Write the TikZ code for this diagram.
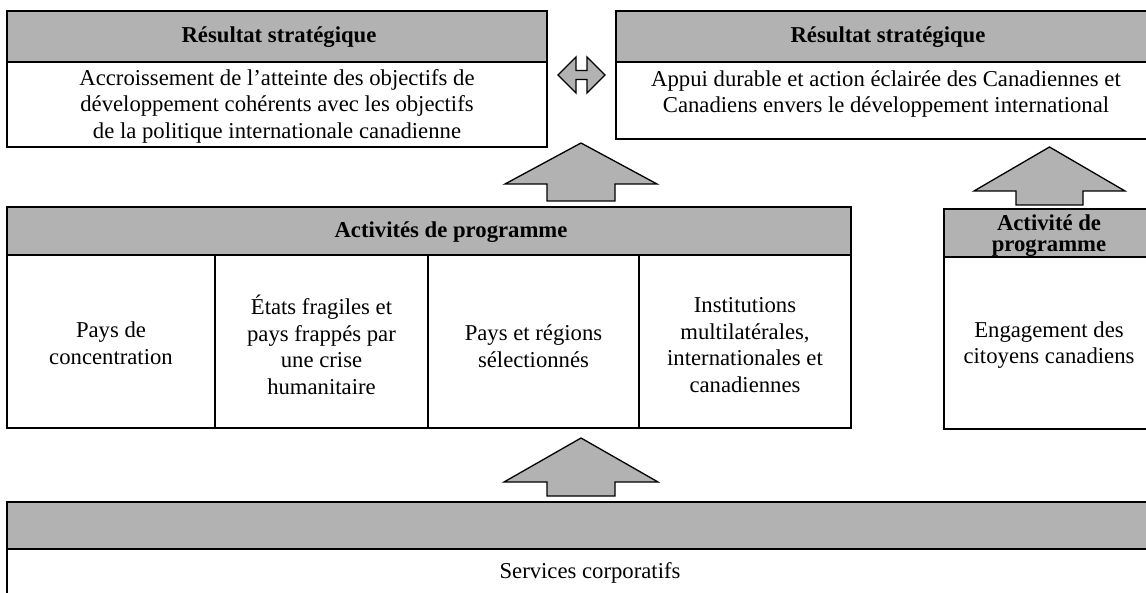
\documentclass[tikz,border=0pt]{standalone}
\usepackage{fontspec}
\setmainfont{Liberation Serif}
\definecolor{hdrgray}{RGB}{178,178,178}
\tikzset{
  box/.style={draw=black, line width=1.6pt, fill=white},
  hdr/.style={draw=black, line width=1.6pt, fill=hdrgray},
  divider/.style={draw=black, line width=1.6pt},
  blockarrow/.style={draw=black, line width=1.3pt, fill=hdrgray, line join=miter},
  txt/.style={font=\fontsize{22.7}{26.5}\selectfont, align=center, inner sep=0pt},
  btxt/.style={font=\fontsize{22.7}{26.5}\selectfont\bfseries, align=center, inner sep=0pt},
  btight/.style={font=\fontsize{22.7}{21}\selectfont\bfseries, align=center, inner sep=0pt},
}
\begin{document}
\begin{tikzpicture}[x=1pt,y=-1pt]
\path[use as bounding box, clip] (0,0) rectangle (1146,593);
\fill[white] (0,0) rectangle (1146,593);

% top-left strategic result
\draw[box] (7,11) rectangle (547,147);
\draw[hdr] (7,11) rectangle (547,62);
\node[btxt] (tlh) at (279,37) {Résultat stratégique};
\node[txt] (tlb) at (277,106) {Accroissement de l’atteinte des objectifs de\\développement cohérents avec les objectifs\\de la politique internationale canadienne};

% top-right strategic result
\draw[box] (616,11) rectangle (1156,139);
\draw[hdr] (616,11) rectangle (1156,62);
\node[btxt] (trh) at (888,37) {Résultat stratégique};
\node[txt] (trb) at (886,94) {Appui durable et action éclairée des Canadiennes et\\Canadiens envers le développement international};

% double arrow
\draw[blockarrow] (558,75) -- (576,57) -- (576,70.5) -- (587,70.5) -- (587,57) -- (605,75)
  -- (587,93) -- (587,79.5) -- (576,79.5) -- (576,93) -- cycle;

% up arrows
\draw[blockarrow] (581,143) -- (657,184) -- (615,184) -- (615,201) -- (547,201) -- (547,184) -- (505,184) -- cycle;
\draw[blockarrow] (1049.5,147) -- (1125,191) -- (1083,191) -- (1083,205) -- (1016,205) -- (1016,191) -- (974,191) -- cycle;
\draw[blockarrow] (581,438) -- (658,482) -- (615,482) -- (615,496) -- (547,496) -- (547,482) -- (504,482) -- cycle;

% program activities
\draw[box] (7,207) rectangle (851,428);
\draw[hdr] (7,207) rectangle (851,255);
\draw[divider] (215,255) -- (215,428);
\draw[divider] (428,255) -- (428,428);
\draw[divider] (639,255) -- (639,428);
\node[btxt] (acth) at (451,232) {Activités de programme};
\node[txt] (c1) at (111,343) {Pays de\\concentration};
\node[txt] (c2) at (321.5,345) {États fragiles et\\pays frappés par\\une crise\\humanitaire};
\node[txt] (c3) at (533.5,346) {Pays et régions\\sélectionnés};
\node[txt] (c4) at (745,345) {Institutions\\multilatérales,\\internationales et\\canadiennes};

% single program activity
\draw[box] (944,209) rectangle (1156,429);
\draw[hdr] (944,209) rectangle (1156,257);
\node[btight] (sbh) at (1049,236) {Activité de\\programme};
\node[txt] (sbb) at (1049,345) {Engagement des\\citoyens canadiens};

% corporate services
\draw[box] (7,502) rectangle (1175,640);
\draw[hdr] (7,502) rectangle (1175,549);
\node[txt] (cs) at (590,573) {Services corporatifs};
\end{tikzpicture}
\end{document}
